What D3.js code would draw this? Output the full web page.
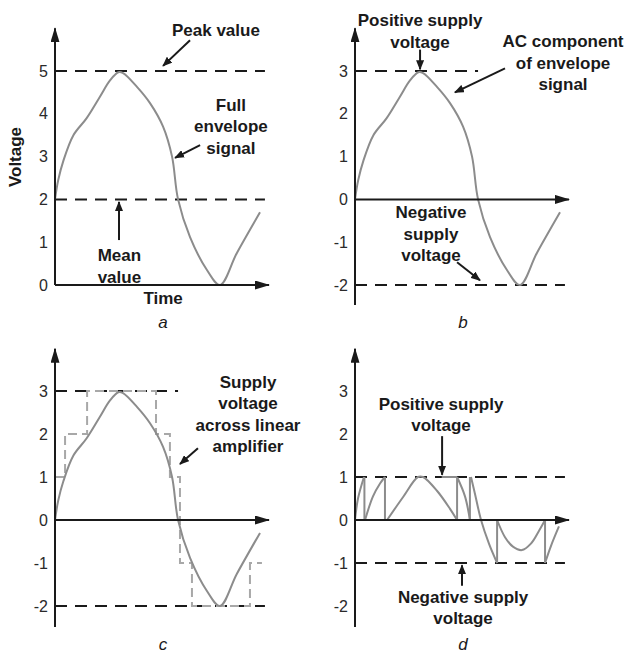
<!DOCTYPE html>
<html>
<head>
<meta charset="utf-8">
<script src="https://cdn.jsdelivr.net/npm/d3@7"></script>
<style>
  body { margin: 0; background: #fff; }
  text { font-family: "Liberation Sans", Arial, sans-serif; }
</style>
</head>
<body>
<svg id="chart" width="630" height="653"></svg>
<script>
// full envelope signal (time in 0-100 units, volts)
const envTime  = [0, 1.5, 3.9, 8.6, 14.8, 21.0, 25.7, 29.6, 31.8, 38.3, 44.4, 50.5, 54.7, 57.5, 63.1, 71.0, 77.1, 85.0, 95.8];
const envVolts = [2.0, 2.45, 2.9, 3.5, 3.9, 4.4, 4.78, 4.97, 4.95, 4.63, 4.25, 3.7, 3.0, 2.0, 1.12, 0.35, 0.0, 0.75, 1.7];
const meanVolts = 2;
const peakVolts = 5;

// AC component = envelope minus its mean
const acVolts = envVolts.map(v => v - meanVolts);

// supply levels
const posSupply = 3;
const negSupply = -2;
const posSupplyD = 1;
const negSupplyD = -1;

// panel c: stepped supply across the linear amplifier (step-after)
const stepTime  = [0, 4.7, 15.0, 47.2, 53.7, 58.4, 64.0, 91.1, 96.7];
const stepLevel = [1, 2, 3, 2, 1, -1, -2, -1, -1];

// panel d: residual signal pieces between resets
const dPieces = [
  [[0, 0], [1.4, 0.5], [4.2, 1.0]],
  [[4.7, 0], [8.4, 0.55], [11.7, 0.85], [14.0, 1.0]],
  [[15.0, 0], [22.4, 0.53], [29.4, 1.0], [31.8, 1.0], [38.3, 0.68], [44.4, 0.26], [47.7, 0]],
  [[47.7, 1], [51.4, 0.55], [53.7, 0]],
  [[54.2, 1], [56.1, 0.6], [58.9, 0], [62.6, -0.55], [66.4, -1]],
  [[66.4, 0], [70.1, -0.4], [73.8, -0.62], [78.0, -0.7], [82.2, -0.55], [86.0, -0.25], [88.8, 0]],
  [[88.8, -1], [91.6, -0.6], [95.3, -0.15]]
];
// vertical resets [time, from, to] and a flat top segment [t1, t2, level]
const dResets = [[4.4, 1, 0], [14.0, 1, 0], [47.7, 0, 1], [53.7, 0, 1], [66.4, -1, 0], [88.8, 0, -1]];
const dFlats = [[40.5, 47.7, 1]];

const ticksA = [0, 1, 2, 3, 4, 5];
const ticksB = [-2, -1, 0, 1, 2, 3];

const svg = d3.select("#chart");
const defs = svg.append("defs");
defs.append("marker").attr("id", "head")
  .attr("viewBox", "0 0 10 8").attr("refX", 9).attr("refY", 4)
  .attr("markerWidth", 10).attr("markerHeight", 8)
  .attr("markerUnits", "userSpaceOnUse").attr("orient", "auto")
  .append("path").attr("d", "M0,0L10,4L0,8Z").attr("fill", "#1a1a1a");
defs.append("marker").attr("id", "axhead")
  .attr("viewBox", "0 0 15 9").attr("refX", 14).attr("refY", 4.5)
  .attr("markerWidth", 15).attr("markerHeight", 9)
  .attr("markerUnits", "userSpaceOnUse").attr("orient", "auto")
  .append("path").attr("d", "M0,0L15,4.5L0,9Z").attr("fill", "#1a1a1a");

const lineGen = (x, y) => d3.line().x(d => x(d[0])).y(d => y(d[1])).curve(d3.curveCatmullRom.alpha(0.5));

function drawPanel(cfg) {
  const g = svg.append("g");
  const x = d3.scaleLinear().domain([0, 100]).range([cfg.x0, cfg.x0 + 214]);
  const y = d3.scaleLinear().domain([-2, 3]).range(cfg.yRange);
  if (cfg.yDomain) y.domain(cfg.yDomain);

  // dashed reference levels
  cfg.refs.forEach(r => {
    g.append("line")
      .attr("x1", x(0)).attr("x2", x(r[1]))
      .attr("y1", y(r[0])).attr("y2", y(r[0]))
      .attr("stroke", "#1a1a1a").attr("stroke-width", 2)
      .attr("stroke-dasharray", "12,8");
  });

  cfg.draw(g, x, y);

  // y axis with arrow
  g.append("line")
    .attr("x1", x(0)).attr("x2", x(0))
    .attr("y1", y(cfg.yAxis[0])).attr("y2", y(cfg.yAxis[1]))
    .attr("stroke", "#1a1a1a").attr("stroke-width", 2)
    .attr("marker-end", "url(#axhead)");
  // time axis with arrow
  g.append("line")
    .attr("x1", x(0)).attr("x2", x(100))
    .attr("y1", y(0)).attr("y2", y(0))
    .attr("stroke", "#1a1a1a").attr("stroke-width", 2)
    .attr("marker-end", "url(#axhead)");

  const ax = g.append("g")
    .attr("transform", `translate(${x(0)},0)`)
    .call(d3.axisLeft(y).tickValues(cfg.ticks).tickSize(0).tickPadding(7).tickFormat(d => String(d)));
  ax.select(".domain").remove();
  ax.selectAll("text")
    .attr("font-family", "'Liberation Sans', Arial, sans-serif")
    .attr("font-size", 16).attr("fill", "#2a2a2a");

  // annotations
  cfg.notes.forEach(n => {
    const t = g.append("text")
      .attr("x", x(n.t)).attr("y", y(n.v))
      .attr("text-anchor", "middle").attr("dominant-baseline", "central")
      .attr("font-size", 17).attr("font-weight", "bold").attr("fill", "#1a1a1a");
    n.lines.forEach((s, i) => {
      t.append("tspan").attr("x", x(n.t)).attr("dy", i === 0 ? 0 : 21.5).text(s);
    });
  });
  cfg.arrows.forEach(a => {
    g.append("line")
      .attr("x1", x(a[0])).attr("y1", y(a[1]))
      .attr("x2", x(a[2])).attr("y2", y(a[3]))
      .attr("stroke", "#1a1a1a").attr("stroke-width", 2)
      .attr("marker-end", "url(#head)");
  });

  g.append("text")
    .attr("x", x(50.5)).attr("y", cfg.letterY)
    .attr("text-anchor", "middle").attr("dominant-baseline", "central")
    .attr("font-size", 17).attr("font-style", "italic").attr("fill", "#1a1a1a")
    .text(cfg.letter);
  return { g, x, y };
}

const envA = envTime.map((t, i) => [t, envVolts[i]]);
const envAC = envTime.map((t, i) => [t, acVolts[i]]);

function drawCurve(g, x, y, pts) {
  g.append("path").datum(pts)
    .attr("d", lineGen(x, y))
    .attr("fill", "none").attr("stroke", "#8c8c8c").attr("stroke-width", 2);
}

// panel a
drawPanel({
  x0: 55, yRange: [285, 71], yDomain: [0, 5], yAxis: [0, 6.0], ticks: ticksA,
  refs: [[peakVolts, 98.1], [meanVolts, 98.1]],
  draw: (g, x, y) => drawCurve(g, x, y, envA),
  notes: [
    { t: 75.2, v: 5.96, lines: ["Peak value"] },
    { t: 82.2, v: 4.21, lines: ["Full", "envelope", "signal"] },
    { t: 30.1, v: 0.70, lines: ["Mean", "value"] },
    { t: 50.5, v: -0.30, lines: ["Time"] }
  ],
  arrows: [[63.1, 5.72, 50.5, 5.12], [67.8, 3.27, 56.1, 2.97], [29.9, 1.05, 29.9, 1.94]],
  letter: "a", letterY: 322
});
svg.append("text")
  .attr("transform", "translate(15,157) rotate(-90)")
  .attr("text-anchor", "middle").attr("dominant-baseline", "central")
  .attr("font-size", 17).attr("font-weight", "bold").attr("fill", "#1a1a1a")
  .text("Voltage");

// panel b
drawPanel({
  x0: 355, yRange: [285, 71], yAxis: [-2.47, 4.0], ticks: ticksB,
  refs: [[posSupply, 57.5], [negSupply, 98.1]],
  draw: (g, x, y) => drawCurve(g, x, y, envAC),
  notes: [
    { t: 30.4, v: 4.18, lines: ["Positive supply", "voltage"] },
    { t: 97.2, v: 3.69, lines: ["AC component", "of envelope", "signal"] },
    { t: 35.5, v: -0.30, lines: ["Negative", "supply", "voltage"] }
  ],
  arrows: [[30.4, 3.5, 30.4, 3.04], [70.1, 3.06, 46.7, 2.5], [47.7, -1.47, 58.4, -1.89]],
  letter: "b", letterY: 322
});

// panel c
drawPanel({
  x0: 55, yRange: [606, 391], yAxis: [-2.49, 3.98], ticks: ticksB,
  refs: [[posSupply, 57.5], [negSupply, 98.1]],
  draw: (g, x, y) => {
    const steps = stepTime.map((t, i) => [t, stepLevel[i]]);
    g.append("path").datum(steps)
      .attr("d", d3.line().x(d => x(d[0])).y(d => y(d[1])).curve(d3.curveStepAfter))
      .attr("fill", "none").attr("stroke", "#a8a8a8").attr("stroke-width", 2)
      .attr("stroke-dasharray", "9,5");
    drawCurve(g, x, y, envAC);
  },
  notes: [
    { t: 90.2, v: 3.21, lines: ["Supply", "voltage", "across linear", "amplifier"] }
  ],
  arrows: [[66.8, 1.67, 58.4, 1.30]],
  letter: "c", letterY: 644
});

// panel d
drawPanel({
  x0: 355, yRange: [606, 391], yAxis: [-2.49, 3.98], ticks: ticksB,
  refs: [[posSupplyD, 98.1], [negSupplyD, 98.1]],
  draw: (g, x, y) => {
    dPieces.forEach(p => drawCurve(g, x, y, p));
    dResets.forEach(r => {
      g.append("line")
        .attr("x1", x(r[0])).attr("x2", x(r[0]))
        .attr("y1", y(r[1])).attr("y2", y(r[2]))
        .attr("stroke", "#8c8c8c").attr("stroke-width", 2);
    });
    dFlats.forEach(f => {
      g.append("line")
        .attr("x1", x(f[0])).attr("x2", x(f[1]))
        .attr("y1", y(f[2])).attr("y2", y(f[2]))
        .attr("stroke", "#8c8c8c").attr("stroke-width", 2);
    });
  },
  notes: [
    { t: 40.2, v: 2.70, lines: ["Positive supply", "voltage"] },
    { t: 50.5, v: -1.79, lines: ["Negative supply", "voltage"] }
  ],
  arrows: [[40.7, 1.95, 40.7, 1.05], [50.0, -1.53, 50.0, -1.05]],
  letter: "d", letterY: 644
});
</script>
</body>
</html>
